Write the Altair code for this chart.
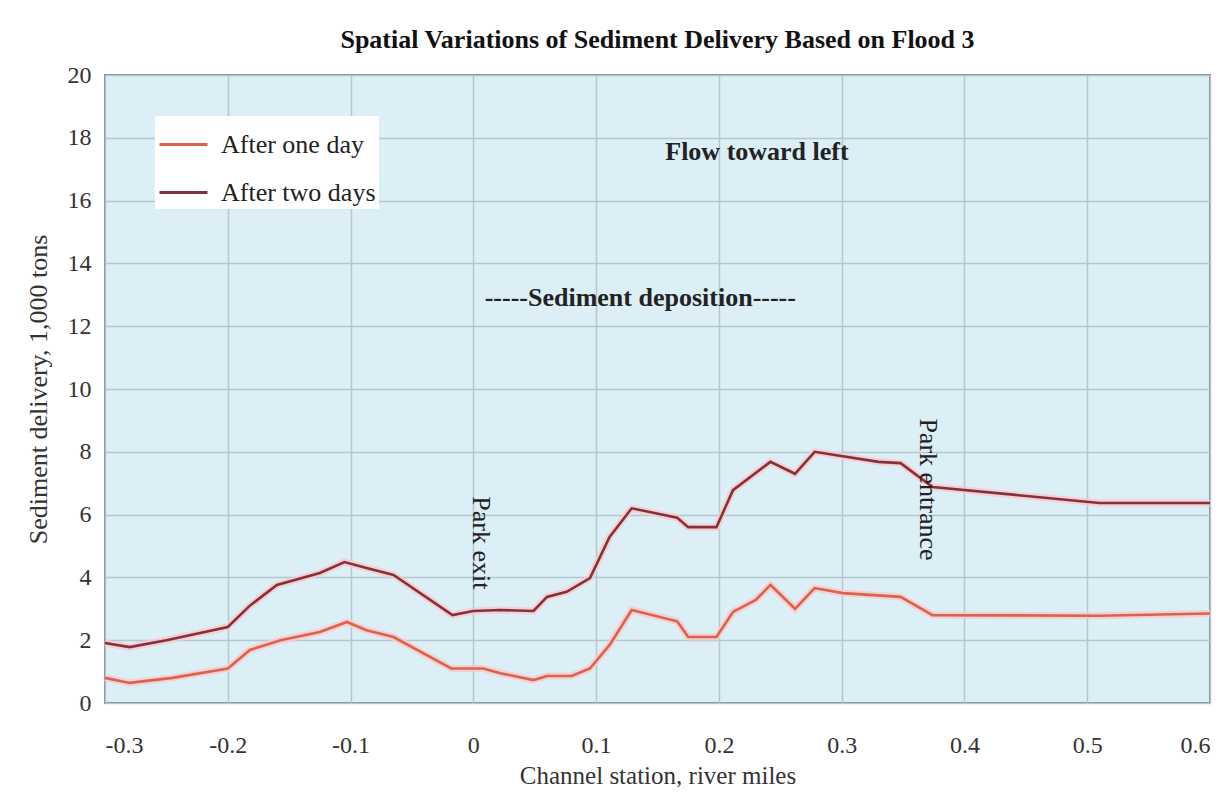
import altair as alt
import pandas as pd

# ---- data ----
x_one = [-0.3, -0.28, -0.245, -0.2, -0.182, -0.157, -0.125, -0.103, -0.087, -0.065, -0.018,
         0.008, 0.022, 0.049, 0.06, 0.08, 0.095, 0.111, 0.129, 0.166, 0.175, 0.198, 0.2115,
         0.23, 0.242, 0.262, 0.278, 0.301, 0.348, 0.374, 0.51, 0.6]
y_one = [0.8, 0.64, 0.8, 1.1, 1.69, 2.0, 2.26, 2.58, 2.32, 2.1, 1.1,
         1.1, 0.95, 0.73, 0.86, 0.86, 1.1, 1.85, 2.96, 2.6, 2.1, 2.1, 2.9,
         3.28, 3.76, 3.0, 3.66, 3.5, 3.38, 2.8, 2.78, 2.85]

x_two = [-0.3, -0.28, -0.25, -0.2, -0.182, -0.16, -0.125, -0.105, -0.087, -0.065, -0.017,
         0.0, 0.022, 0.049, 0.06, 0.076, 0.095, 0.111, 0.129, 0.166, 0.175, 0.198, 0.2115,
         0.242, 0.262, 0.278, 0.33, 0.348, 0.374, 0.51, 0.6]
y_two = [1.91, 1.78, 2.0, 2.42, 3.1, 3.76, 4.14, 4.49, 4.3, 4.08, 2.8,
         2.93, 2.96, 2.93, 3.38, 3.54, 3.98, 5.29, 6.2, 5.9, 5.6, 5.6, 6.78,
         7.68, 7.3, 8.0, 7.68, 7.64, 6.88, 6.37, 6.37]

series_names = ["After one day", "After two days"]
series_colors = ["#D9634E", "#84303D"]

x_ticks = [-0.3, -0.2, -0.1, 0.0, 0.1, 0.2, 0.3, 0.4, 0.5, 0.6]
y_ticks = [0, 2, 4, 6, 8, 10, 12, 14, 16, 18, 20]

note_text = ["Flow toward left", "-----Sediment deposition-----"]
note_x = [0.231, 0.136]
note_y = [17.55, 12.9]

vnote_text = ["Park exit", "Park entrance"]
vnote_x = [0.006, 0.37]
vnote_y = [5.1, 6.8]

# ---- build tables ----
df = pd.concat([
    pd.DataFrame({"x": x_one, "y": y_one, "series": series_names[0], "order": range(len(x_one))}),
    pd.DataFrame({"x": x_two, "y": y_two, "series": series_names[1], "order": range(len(x_two))}),
])
notes = pd.DataFrame({"x": note_x, "y": note_y, "t": note_text})
vnotes = pd.DataFrame({"x": vnote_x, "y": vnote_y, "t": vnote_text})

FONT = "Liberation Serif"

xs = alt.X("x:Q", scale=alt.Scale(domain=[-0.3, 0.6], nice=False, zero=False),
           axis=alt.Axis(values=x_ticks,
                         labelExpr="datum.value < 0 ? '-' + format(-datum.value, '.1~f') : format(datum.value, '.1~f')",
                         title="Channel station, river miles",
                         labelPadding=30, titlePadding=6, titleFontSize=25))
ys = alt.Y("y:Q", scale=alt.Scale(domain=[0, 20], nice=False),
           axis=alt.Axis(values=y_ticks, title="Sediment delivery, 1,000 tons",
                         labelPadding=14, titlePadding=16, titleFontSize=26))

halo = alt.Chart(df).mark_line(strokeWidth=7, color="#F7CACA", opacity=0.85).encode(
    x=xs, y=ys, detail="series:N", order="order:Q")

lines = alt.Chart(df).mark_line(strokeWidth=2.6).encode(
    x=xs, y=ys, order="order:Q",
    color=alt.Color("series:N",
                    scale=alt.Scale(domain=series_names, range=series_colors),
                    legend=alt.Legend(orient="none", legendX=50, legendY=41, title=None,
                                      fillColor="white", padding=3,
                                      symbolType="stroke", symbolSize=2304,
                                      symbolStrokeWidth=3, labelFont=FONT,
                                      labelFontSize=26, labelColor="#222",
                                      rowPadding=9, labelOffset=12)))

txt = alt.Chart(notes).mark_text(font=FONT, fontSize=26, fontWeight="bold", color="#222").encode(
    x="x:Q", y="y:Q", text="t:N")

vtxt = alt.Chart(vnotes).mark_text(font=FONT, fontSize=26, angle=90, color="#222").encode(
    x="x:Q", y="y:Q", text="t:N")

chart = alt.layer(halo, lines, txt, vtxt).properties(
    width=1105, height=628,
    autosize=alt.AutoSizeParams(type="none"),
    padding={"left": 97, "top": 67, "right": 12, "bottom": 84},
    title=alt.TitleParams(text="Spatial Variations of Sediment Delivery Based on Flood 3",
                          font=FONT, fontSize=26, fontWeight="bold", color="#111",
                          anchor="middle", baseline="bottom", offset=24, dy=40),
).configure_view(
    fill="#DCEFF6", stroke="#7E8A90", strokeWidth=2
).configure_axis(
    labelFont=FONT, labelFontSize=24, labelColor="#333",
    titleFont=FONT, titleFontWeight="normal", titleColor="#333",
    grid=True, gridColor="#B2C7CF", gridWidth=1.5, ticks=False, domain=False
)

chart.save("out.html", embed_options={"renderer": "svg", "actions": False})
